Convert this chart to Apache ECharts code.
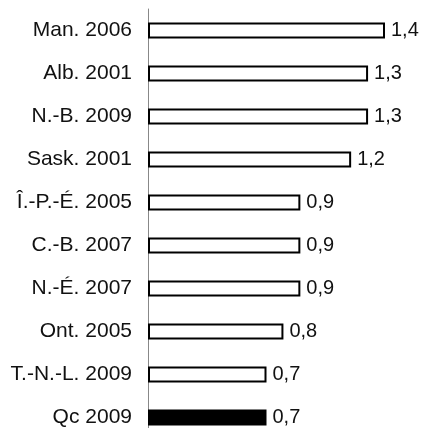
<!DOCTYPE html>
<html>
<head>
<meta charset="utf-8">
<script src="https://cdn.jsdelivr.net/npm/echarts@6/dist/echarts.min.js"></script>
<style>
  html, body { margin: 0; padding: 0; background: #fff; }
  #chart { width: 425px; height: 428px; }
</style>
</head>
<body>
<div id="chart"></div>
<script>
// provinces, top to bottom
var regions = ['Man. 2006', 'Alb. 2001', 'N.-B. 2009', 'Sask. 2001', 'Î.-P.-É. 2005',
               'C.-B. 2007', 'N.-É. 2007', 'Ont. 2005', 'T.-N.-L. 2009', 'Qc 2009'];
var values = [1.4, 1.3, 1.3, 1.2, 0.9, 0.9, 0.9, 0.8, 0.7, 0.7];
var highlight = 'Qc 2009';

var chart = echarts.init(document.getElementById('chart'));

var barData = values.map(function (v, i) {
  var isQc = regions[i] === highlight;
  return {
    value: v,
    itemStyle: { color: isQc ? '#000' : '#fff' }
  };
});

chart.setOption({
  animation: false,
  grid: { left: 148, top: 9, width: 237, height: 430, outerBoundsMode: 'none' },
  xAxis: {
    type: 'value',
    min: 0,
    max: 1.4,
    show: false
  },
  yAxis: {
    type: 'category',
    inverse: true,
    data: regions,
    axisLine: { show: true, lineStyle: { color: '#888', width: 1 } },
    axisTick: { show: false },
    axisLabel: {
      margin: 16,
      color: '#111',
      fontFamily: 'Liberation Sans, Arial, sans-serif',
      fontSize: 21
    }
  },
  series: [{
    type: 'bar',
    data: barData,
    barWidth: 16,
    itemStyle: { borderColor: '#000', borderWidth: 2 },
    label: {
      show: true,
      position: 'right',
      distance: 6,
      color: '#111',
      fontFamily: 'Liberation Sans, Arial, sans-serif',
      fontSize: 20,
      formatter: function (p) { return p.value.toFixed(1).replace('.', ','); }
    }
  }]
});
</script>
</body>
</html>
